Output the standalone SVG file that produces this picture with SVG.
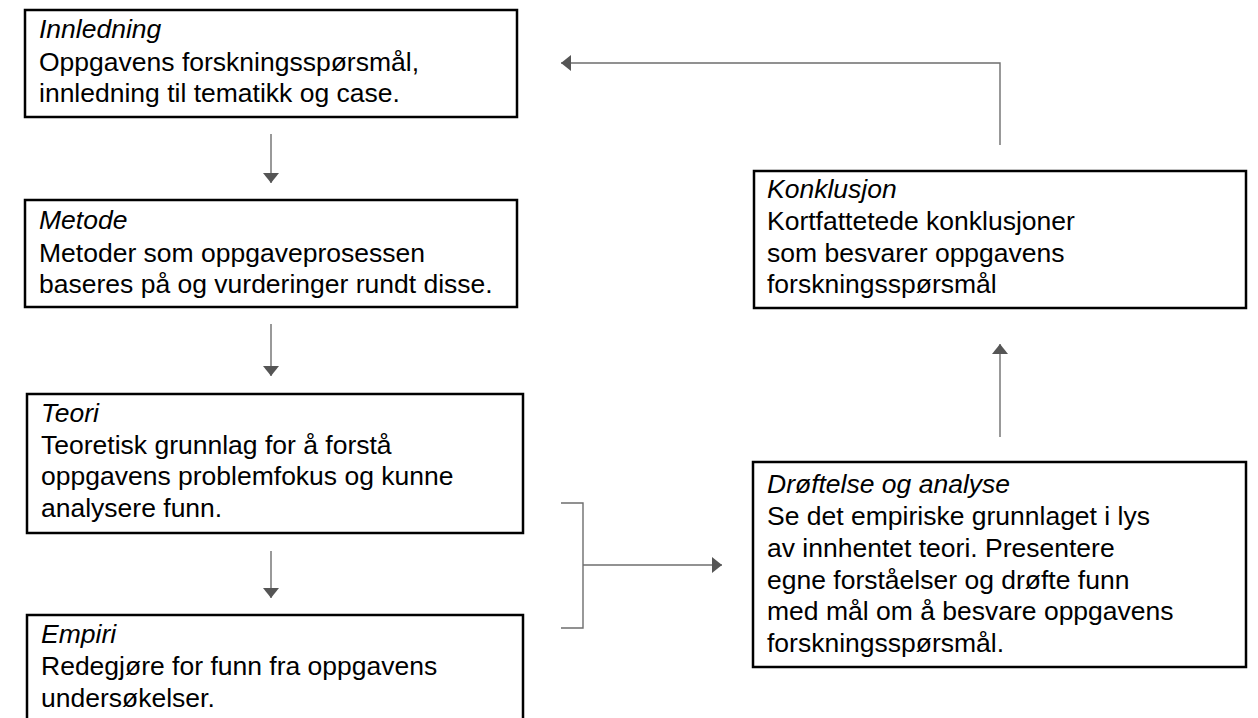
<svg xmlns="http://www.w3.org/2000/svg" width="1258" height="718" viewBox="0 0 1258 718">
<style>
.box{fill:#fff;stroke:#000;stroke-width:2.5}
.t{font-family:"Liberation Sans",Arial,sans-serif;font-size:26.5px;fill:#000}
.i{font-style:italic}
.c{fill:none;stroke:#6e6e6e;stroke-width:1.4}
</style>
<defs>
<marker id="ah" viewBox="0 0 10 16" refX="10" refY="8" markerWidth="10" markerHeight="16" markerUnits="userSpaceOnUse" orient="auto">
<path d="M0,0 L10,8 L0,16 Z" fill="#555"/>
</marker>
</defs>
<rect width="1258" height="718" fill="#fff"/>
<g id="connectors">
<line class="c" x1="271" y1="134" x2="271" y2="183" marker-end="url(#ah)"/>
<line class="c" x1="271" y1="324" x2="271" y2="376" marker-end="url(#ah)"/>
<line class="c" x1="271" y1="551" x2="271" y2="598" marker-end="url(#ah)"/>
<polyline class="c" points="561,503 583,503 583,628 561,628"/>
<line class="c" x1="583" y1="565" x2="722" y2="565" marker-end="url(#ah)"/>
<line class="c" x1="1000" y1="437" x2="1000" y2="344" marker-end="url(#ah)"/>
<polyline class="c" points="1000,145 1000,63 561,63" marker-end="url(#ah)"/>
</g>
<g id="innledning">
<rect class="box" x="25" y="10" width="492" height="107"/>
<text class="t i" x="39" y="38">Innledning</text>
<text class="t" x="39" y="71">Oppgavens forskningsspørsmål,</text>
<text class="t" x="39" y="102">innledning til tematikk og case.</text>
</g>
<g id="metode">
<rect class="box" x="25" y="200" width="492" height="107"/>
<text class="t i" x="39" y="229">Metode</text>
<text class="t" x="39" y="262">Metoder som oppgaveprosessen</text>
<text class="t" x="39" y="293">baseres på og vurderinger rundt disse.</text>
</g>
<g id="teori">
<rect class="box" x="27" y="394" width="496" height="139"/>
<text class="t i" x="41" y="422">Teori</text>
<text class="t" x="41" y="454">Teoretisk grunnlag for å forstå</text>
<text class="t" x="41" y="485">oppgavens problemfokus og kunne</text>
<text class="t" x="41" y="517">analysere funn.</text>
</g>
<g id="empiri">
<rect class="box" x="27" y="615" width="496" height="110"/>
<text class="t i" x="41" y="643">Empiri</text>
<text class="t" x="41" y="675">Redegjøre for funn fra oppgavens</text>
<text class="t" x="41" y="707">undersøkelser.</text>
</g>
<g id="drofting">
<rect class="box" x="753" y="462" width="493" height="205"/>
<text class="t i" x="767" y="493">Drøftelse og analyse</text>
<text class="t" x="767" y="525">Se det empiriske grunnlaget i lys</text>
<text class="t" x="767" y="557">av innhentet teori. Presentere</text>
<text class="t" x="767" y="589">egne forståelser og drøfte funn</text>
<text class="t" x="767" y="620">med mål om å besvare oppgavens</text>
<text class="t" x="767" y="652">forskningsspørsmål.</text>
</g>
<g id="konklusjon">
<rect class="box" x="754" y="171" width="492" height="137"/>
<text class="t i" x="767" y="198">Konklusjon</text>
<text class="t" x="767" y="230">Kortfattetede konklusjoner</text>
<text class="t" x="767" y="262">som besvarer oppgavens</text>
<text class="t" x="767" y="293">forskningsspørsmål</text>
</g>
</svg>
